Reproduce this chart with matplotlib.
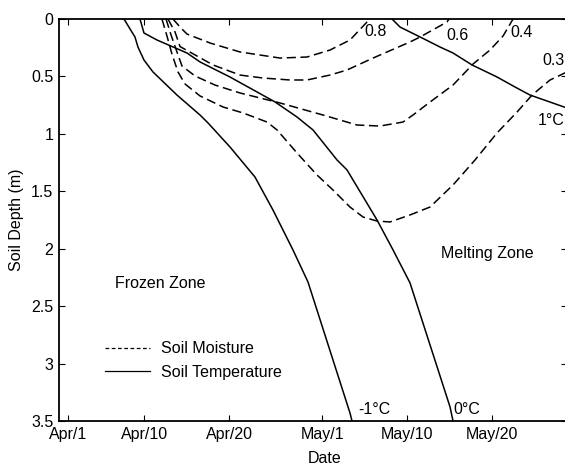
import matplotlib
matplotlib.use("Agg")
import matplotlib.pyplot as plt
from matplotlib.lines import Line2D

plt.rcParams['font.family'] = ['Liberation Sans', 'DejaVu Sans']
plt.rcParams['font.size'] = 11.5

# x = days after Apr/1, y = soil depth (m)
tick_pos = [0, 9, 19, 30, 40, 50]
tick_lab = ['Apr/1', 'Apr/10', 'Apr/20', 'May/1', 'May/10', 'May/20']

# soil temperature isotherms
t_m1_day = [6.60, 7.90, 8.25, 8.96, 10.02, 12.85, 15.57, 16.51, 19.10, 22.05, 24.17, 26.53, 28.30, 33.25, 33.49]
t_m1_dep = [0, 0.157, 0.244, 0.357, 0.461, 0.662, 0.836, 0.905, 1.114, 1.376, 1.663, 2.011, 2.29, 3.43, 3.5]

t_0_day = [8.49, 8.96, 10.50, 14.03, 15.57, 19.10, 24.41, 27.00, 28.89, 31.72, 32.90, 36.44, 38.33, 40.33, 45.05, 45.40]
t_0_dep = [0, 0.122, 0.183, 0.296, 0.374, 0.505, 0.722, 0.853, 0.966, 1.227, 1.314, 1.750, 2.011, 2.298, 3.378, 3.5]

t_1_day = [38.21, 39.15, 41.75, 43.87, 45.40, 47.64, 50.59, 52.71, 54.48, 58.84]
t_1_dep = [0, 0.07, 0.165, 0.244, 0.296, 0.40, 0.505, 0.592, 0.662, 0.775]

# soil moisture contours
m08_day = [12.38, 13.21, 14.03, 16.75, 20.28, 25.0, 28.18, 30.90, 33.25, 35.26, 35.61]
m08_dep = [0, 0.07, 0.131, 0.209, 0.287, 0.34, 0.331, 0.27, 0.183, 0.026, 0]

m06_day = [11.79, 12.62, 13.21, 17.10, 20.28, 23.0, 26.18, 28.18, 30.90, 32.90, 35.97, 40.33, 41.51, 44.69, 44.93]
m06_dep = [0, 0.113, 0.24, 0.40, 0.488, 0.514, 0.531, 0.531, 0.488, 0.444, 0.34, 0.2, 0.157, 0.026, 0]

m04_day = [11.56, 12.15, 12.85, 13.44, 14.98, 17.33, 20.28, 25.0, 30.07, 34.08, 36.79, 39.50, 40.68, 42.69, 45.40, 47.76, 49.76, 51.30, 52.48]
m04_dep = [0, 0.139, 0.287, 0.409, 0.496, 0.575, 0.644, 0.731, 0.836, 0.923, 0.932, 0.897, 0.836, 0.723, 0.575, 0.392, 0.27, 0.148, 0]

m03_day = [11.08, 11.67, 12.26, 12.97, 13.80, 15.57, 18.28, 20.64, 23.47, 24.65, 27.00, 29.36, 31.25, 33.25, 34.79, 36.44,
           37.97, 40.33, 42.69, 45.40, 48.00, 50.59, 52.95, 54.72, 56.84, 58.84]
m03_dep = [0, 0.148, 0.305, 0.461, 0.566, 0.67, 0.766, 0.818, 0.897, 0.966, 1.166, 1.358, 1.489, 1.637, 1.724, 1.759,
           1.767, 1.706, 1.637, 1.445, 1.227, 0.992, 0.81, 0.662, 0.531, 0.461]

fig = plt.figure(figsize=(5.65, 4.68), dpi=100)
ax = fig.add_axes([59/565, 1 - 421/468, 508/565, 402/468])

lw = 1.1
dash = (6, 3)
for d, z in [(t_m1_day, t_m1_dep), (t_0_day, t_0_dep), (t_1_day, t_1_dep)]:
    ax.plot(d, z, color='k', lw=lw)
for d, z in [(m08_day, m08_dep), (m06_day, m06_dep), (m04_day, m04_dep), (m03_day, m03_dep)]:
    ax.plot(d, z, color='k', lw=lw, ls=(0, dash))

ax.text(34.2, 3.40, '-1°C', ha='left', va='center')
ax.text(45.5, 3.40, '0°C', ha='left', va='center')
ax.text(56.96, 0.88, '1°C', ha='center', va='center')
ax.text(36.3, 0.113, '0.8', ha='center', va='center')
ax.text(45.9, 0.14, '0.6', ha='center', va='center')
ax.text(53.5, 0.12, '0.4', ha='center', va='center')
ax.text(57.2, 0.357, '0.3', ha='center', va='center')
ax.text(10.85, 2.30, 'Frozen Zone', ha='center', va='center')
ax.text(49.4, 2.04, 'Melting Zone', ha='center', va='center')

handles = [Line2D([], [], color='k', lw=0.9, ls=(0, (3, 2))),
           Line2D([], [], color='k', lw=0.9)]
ax.legend(handles, ['Soil Moisture', 'Soil Temperature'], loc='center left',
          bbox_to_anchor=(0.0906, 0.1505), frameon=False, borderpad=0,
          borderaxespad=0, handlelength=2.8, handletextpad=0.7, labelspacing=0.55)

ax.set_xlim(-1.06, 58.84)
ax.set_ylim(3.5, 0)
ax.set_xticks(tick_pos)
ax.set_xticklabels(tick_lab)
ax.set_yticks([0, 0.5, 1, 1.5, 2, 2.5, 3, 3.5])
ax.set_yticklabels(['0', '0.5', '1', '1.5', '2', '2.5', '3', '3.5'])
ax.tick_params(direction='in', top=True, right=True, length=4, width=0.8, pad=4)
for s in ax.spines.values():
    s.set_linewidth(1.3)

ax.set_xlabel('Date')
ax.set_ylabel('Soil Depth (m)')
ax.xaxis.set_label_coords((325 - 59) / 508, -0.075)
ax.yaxis.set_label_coords(-0.068, 0.5)

plt.savefig('out.png', dpi=100)
